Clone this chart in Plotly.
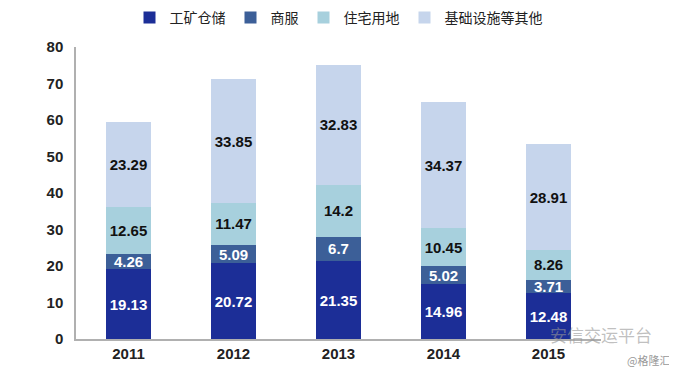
import plotly.graph_objects as go

years = ["2011", "2012", "2013", "2014", "2015"]
industrial = [19.13, 20.72, 21.35, 14.96, 12.48]
commercial = [4.26, 5.09, 6.7, 5.02, 3.71]
residential = [12.65, 11.47, 14.2, 10.45, 8.26]
infrastructure = [23.29, 33.85, 32.83, 34.37, 28.91]
series_names = ["工矿仓储", "商服", "住宅用地", "基础设施等其他"]
y_ticks = [0, 10, 20, 30, 40, 50, 60, 70, 80]

colors = ["#1c2e97", "#3c5f98", "#a7d0dd", "#c6d5ec"]
text_colors = ["white", "white", "#111111", "#111111"]

fig = go.Figure()
for name, vals, c, tc in zip(series_names, [industrial, commercial, residential, infrastructure], colors, text_colors):
    fig.add_trace(go.Bar(
        x=years, y=vals, name=name,
        marker=dict(color=c, line=dict(width=0)),
        text=[f"{v:g}" for v in vals],
        textposition="inside", insidetextanchor="middle",
        constraintext="none",
        textfont=dict(family="Liberation Sans, Arial", size=15, color=tc, weight="bold"),
    ))

fig.update_layout(
    barmode="stack",
    bargap=0.57,
    width=677, height=372,
    margin=dict(l=68, r=84, t=39, b=41, autoexpand=False),
    plot_bgcolor="white", paper_bgcolor="white",
    font=dict(family="Liberation Sans, Arial", color="#222222"),
    legend=dict(
        orientation="h", x=0.5, xanchor="center", y=1.1, yanchor="middle",
        font=dict(family="Noto Sans CJK SC", size=14, color="#222222"),
        traceorder="normal", tracegroupgap=0,
    ),
    showlegend=True,
)
fig.update_xaxes(
    showline=True, linecolor="#b0b0b0", linewidth=1.5,
    ticks="", tickfont=dict(size=15, color="#222222", weight="bold"),
    showgrid=False,
)
fig.update_yaxes(
    range=[0, 80], tickvals=y_ticks,
    showline=True, linecolor="#b0b0b0", linewidth=1.5,
    ticks="", tickfont=dict(size=15, color="#222222", weight="bold"),
    showgrid=False, zeroline=False, ticklabelstandoff=8,
)

fig.add_annotation(text="安信交运平台", xref="paper", yref="paper", x=1.0, y=0.014,
                   xanchor="center", yanchor="middle",
                   showarrow=False, font=dict(family="Noto Sans CJK SC", size=17, color="rgba(150,150,150,0.6)"))
fig.add_annotation(text="@格隆汇", xref="paper", yref="paper", x=1.09, y=-0.072,
                   xanchor="center", yanchor="middle",
                   showarrow=False, font=dict(family="Noto Sans CJK SC", size=11, color="#999999"))

fig.write_html("out.html")
